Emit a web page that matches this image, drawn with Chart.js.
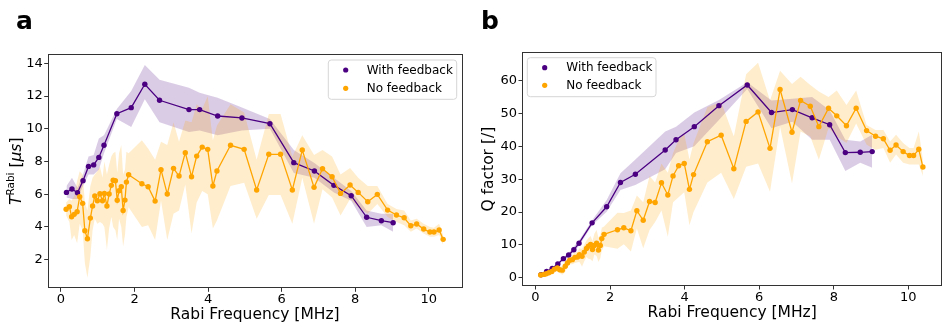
<!DOCTYPE html>
<html>
<head>
<meta charset="utf-8">
<script src="https://cdn.jsdelivr.net/npm/chart.js@4.4.1/dist/chart.umd.min.js"></script>
<style>
  html, body { margin: 0; padding: 0; background: #fff; }
  body { width: 947px; height: 329px; position: relative; overflow: hidden; font-family: "DejaVu Sans", sans-serif; }
  canvas { position: absolute; top: 0; }
  #cA { left: 0; }
  #cB { left: 470px; }
  .panel { position: absolute; font-family: "DejaVu Sans", sans-serif; font-weight: bold; font-size: 25px; line-height: 1; color: #000; }
</style>
</head>
<body>
<canvas id="cA" width="470" height="329"></canvas>
<canvas id="cB" width="477" height="329"></canvas>
<div class="panel" style="left:16px; top:8px;">a</div>
<div class="panel" style="left:481px; top:8px;">b</div>
<script>
// ---------------- data ----------------
const seriesLabels = ["With feedback", "No feedback"];
const xTicks = [0, 2, 4, 6, 8, 10];
const yTicksA = [2, 4, 6, 8, 10, 12, 14];
const yTicksB = [0, 10, 20, 30, 40, 50, 60];

const freqFb = [0.15,0.30,0.45,0.60,0.75,0.89,1.03,1.17,1.52,1.91,2.28,2.68,3.48,3.77,4.26,4.92,5.68,6.33,6.89,7.42,7.89,8.31,8.71,9.03];
const tFb   = [6.11,6.32,6.09,6.83,7.70,7.79,8.25,8.99,10.92,11.29,12.72,11.74,11.17,11.17,10.78,10.66,10.31,7.93,7.42,6.54,5.91,4.59,4.38,4.26];
const tFbHi = [6.5,7.0,6.4,7.2,8.3,8.4,9.4,9.6,11.2,12.3,13.9,13.0,12.5,12.2,11.9,11.3,10.6,8.7,7.9,7.0,6.2,5.0,4.8,4.8];
const tFbLo = [5.8,5.7,5.7,6.5,7.2,7.2,7.5,8.5,10.6,10.1,11.8,10.4,9.8,9.9,9.6,9.9,10.0,7.3,7.0,6.1,5.6,4.0,4.1,3.7];
const qFb   = [0.9,1.9,2.8,4.2,5.8,6.9,8.5,10.5,16.7,21.6,29.0,31.5,38.9,42.0,46.0,52.4,58.7,50.3,51.2,48.7,46.6,38.1,38.2,38.4];
const qFbHi = [1.0,2.1,3.1,4.5,6.3,7.5,9.5,11.3,17.5,23.7,31.8,36.0,44.5,46.0,50.3,54.1,59.5,54.0,54.5,55.0,51.0,42.0,41.5,43.5];
const qFbLo = [0.8,1.7,2.5,3.9,5.3,6.3,7.9,9.7,16.0,20.1,26.7,28.2,33.0,38.0,40.0,48.0,57.5,45.5,47.5,42.0,42.0,32.5,35.0,33.5];

const freqNo = [0.14,0.23,0.29,0.36,0.44,0.51,0.59,0.65,0.72,0.80,0.86,0.92,0.99,1.06,1.13,1.18,1.25,1.31,1.37,1.42,1.48,1.53,1.58,1.64,1.69,1.74,1.78,1.84,2.20,2.37,2.56,2.72,2.89,3.06,3.21,3.38,3.55,3.69,3.84,3.99,4.13,4.24,4.61,4.98,5.32,5.65,5.97,6.29,6.56,6.88,7.11,7.37,7.60,7.86,8.08,8.34,8.60,8.88,9.12,9.33,9.51,9.67,9.86,10.03,10.14,10.28,10.39];
const tNo   = [5.08,5.24,4.62,4.77,4.93,5.85,5.44,3.77,3.28,4.54,5.28,5.89,5.60,6.03,5.60,6.05,5.28,6.01,6.54,6.85,6.82,5.63,6.21,6.46,5.00,5.64,6.74,7.19,6.64,6.46,5.58,7.50,6.01,7.58,7.11,8.54,7.07,8.33,8.88,8.74,6.50,7.42,8.99,8.74,6.26,8.44,8.44,6.26,8.70,6.42,7.56,7.07,6.05,6.56,6.11,5.54,5.99,5.03,4.73,4.56,4.07,4.18,3.87,3.69,3.69,3.81,3.24];
const tNoHi = [5.5,5.7,5.6,5.9,6.8,7.4,7.2,5.5,5.0,6.5,7.0,7.2,7.4,7.7,7.0,8.0,7.2,7.8,8.3,8.5,8.6,7.3,8.5,9.0,7.2,7.5,8.6,8.5,9.3,8.8,8.1,9.2,9.0,10.4,9.2,10.5,10.4,11.5,11.2,12.0,9.3,10.2,11.5,11.0,8.1,10.9,10.9,8.3,9.6,8.4,8.7,8.3,7.2,7.6,7.0,6.5,6.5,5.4,5.1,5.0,4.4,4.5,4.2,4.0,3.95,4.2,3.5];
const tNoLo = [4.7,4.3,3.2,3.5,3.0,4.2,3.8,1.8,0.9,2.2,3.8,4.5,4.2,4.3,4.2,4.0,2.6,3.9,4.6,4.0,3.8,3.2,4.5,4.0,2.8,3.5,4.6,5.2,4.0,4.1,3.2,5.6,3.2,4.8,5.0,6.6,3.6,5.5,6.2,6.0,3.9,4.4,6.5,6.7,4.5,5.95,5.95,4.2,7.0,4.2,6.3,5.8,4.7,5.7,5.2,4.8,5.4,4.6,4.3,4.1,3.7,3.9,3.6,3.4,3.4,3.5,2.9];
const qNo   = [0.8,1.0,1.2,1.5,1.9,2.6,3.0,2.4,2.3,3.5,4.5,5.3,5.5,6.2,6.3,7.0,6.5,7.8,8.9,9.6,10.1,8.6,9.8,10.5,8.4,9.8,11.9,13.2,14.6,15.2,14.3,20.4,17.5,23.2,22.9,28.9,25.2,31.0,34.1,34.8,26.9,31.4,41.4,43.4,33.2,47.6,50.5,39.4,57.3,44.3,54.0,52.2,46.0,51.6,49.3,46.3,51.6,44.8,43.1,42.3,38.8,40.4,38.4,37.2,37.2,39.1,33.7];
const qNoHi = [1.0,1.3,1.6,2.0,2.6,3.3,3.7,3.5,3.5,5.0,5.9,6.6,7.0,7.8,7.9,9.0,8.8,10.0,11.3,12.0,12.7,11.2,13.4,14.5,12.2,13.0,15.2,15.6,19.8,19.7,20.5,25.0,23.0,31.0,29.0,34.8,32.0,38.0,42.0,44.0,36.0,41.0,52.0,53.5,43.0,62.0,65.5,54.0,63.0,59.0,61.2,58.7,56.7,55.0,57.0,52.6,57.0,46.5,45.0,45.0,41.5,43.5,41.0,39.5,39.5,44.5,36.0];
const qNoLo = [0.5,0.8,0.9,1.1,1.3,1.9,2.2,1.4,0.9,1.8,3.3,4.1,4.1,4.5,4.7,4.8,3.4,5.0,6.3,5.8,5.6,4.9,7.1,6.6,4.8,6.0,8.2,9.6,8.8,10.2,8.0,15.0,9.0,14.5,17.0,20.5,12.5,23.0,24.5,26.0,16.0,20.0,29.0,32.0,24.0,33.8,34.8,26.2,46.0,28.7,44.5,43.0,35.9,45.5,43.0,41.0,47.0,40.5,39.0,39.5,35.0,37.5,35.0,34.5,34.5,34.5,31.0];

// ---------------- styling ----------------
const PURPLE = "#4b0082", ORANGE = "#ffa500";
const PURPLE_BAND = "rgba(75,0,130,0.2)", ORANGE_BAND = "rgba(255,165,0,0.2)";
const FONT = "DejaVu Sans";
const AX = "#333";

function pts(xs, ys) { return xs.map((x, i) => ({ x: x, y: ys[i] })); }

function buildDatasets(yFb, yFbHi, yFbLo, yNo, yNoHi, yNoLo) {
  const band = (data, color, fill, order) => ({
    data: data, borderColor: "transparent", borderWidth: 0, backgroundColor: color,
    pointRadius: 0, pointHoverRadius: 0, fill: fill, tension: 0, order: order
  });
  const line = (data, color, label, order) => ({
    label: label, data: data, borderColor: color, borderWidth: 1.3, backgroundColor: color,
    pointRadius: 2.7, pointBorderWidth: 0, pointBackgroundColor: color, pointHoverRadius: 2.7,
    fill: false, tension: 0, order: order
  });
  return [
    band(pts(freqFb, yFbHi), PURPLE_BAND, "+1", 6),
    band(pts(freqFb, yFbLo), "transparent", false, 6),
    line(pts(freqFb, yFb), PURPLE, seriesLabels[0], 2),
    band(pts(freqNo, yNoHi), ORANGE_BAND, "+1", 5),
    band(pts(freqNo, yNoLo), "transparent", false, 5),
    line(pts(freqNo, yNo), ORANGE, seriesLabels[1], 1)
  ];
}

const framePlugin = {
  id: "frame",
  afterDatasetsDraw(chart) {
    const a = chart.chartArea, ctx = chart.ctx;
    ctx.save();
    ctx.strokeStyle = AX; ctx.lineWidth = 1;
    ctx.strokeRect(Math.round(a.left) + 0.5, Math.round(a.top) + 0.5,
                   Math.round(a.right - a.left) - 1, Math.round(a.bottom - a.top) - 1);
    ctx.restore();
  }
};

function legendPlugin(box) {
  return {
    id: "customLegend",
    afterDraw(chart) {
      const ctx = chart.ctx;
      ctx.save();
      const r = 3, x = box.x, y = box.y, w = box.w, h = box.h;
      ctx.beginPath();
      ctx.moveTo(x + r, y); ctx.lineTo(x + w - r, y); ctx.quadraticCurveTo(x + w, y, x + w, y + r);
      ctx.lineTo(x + w, y + h - r); ctx.quadraticCurveTo(x + w, y + h, x + w - r, y + h);
      ctx.lineTo(x + r, y + h); ctx.quadraticCurveTo(x, y + h, x, y + h - r);
      ctx.lineTo(x, y + r); ctx.quadraticCurveTo(x, y, x + r, y); ctx.closePath();
      ctx.fillStyle = "rgba(255,255,255,0.8)"; ctx.fill();
      ctx.strokeStyle = "#d6d6d6"; ctx.lineWidth = 1; ctx.stroke();
      const items = chart.data.datasets.filter(d => d.label);
      ctx.font = "12px '" + FONT + "'";
      ctx.textBaseline = "middle"; ctx.textAlign = "left";
      items.forEach((d, i) => {
        const yy = box.rowY[i];
        ctx.beginPath(); ctx.arc(box.markX, yy, 2.6, 0, Math.PI * 2);
        ctx.fillStyle = d.borderColor; ctx.fill();
        ctx.fillStyle = "#000"; ctx.fillText(d.label, box.textX, yy + 0.5);
      });
      ctx.restore();
    }
  };
}

const yLabelA = {
  id: "yLabelA",
  afterDraw(chart) {
    const ctx = chart.ctx;
    const a = chart.chartArea;
    ctx.save();
    ctx.translate(20.5, (a.top + a.bottom) / 2);
    ctx.rotate(-Math.PI / 2);
    ctx.fillStyle = "#000"; ctx.textBaseline = "alphabetic"; ctx.textAlign = "left";
    const parts = [
      { t: "T", f: "italic 15.5px '" + FONT + "'", dy: 0 },
      { t: "Rabi", f: "10.5px '" + FONT + "'", dy: -6.5 },
      { t: " [", f: "15.5px '" + FONT + "'", dy: 0 },
      { t: "\u03bcs", f: "italic 15.5px '" + FONT + "'", dy: 0 },
      { t: "]", f: "15.5px '" + FONT + "'", dy: 0 }
    ];
    let total = 0;
    parts.forEach(p => { ctx.font = p.f; p.w = ctx.measureText(p.t).width; total += p.w; });
    let x = -total / 2;
    parts.forEach(p => { ctx.font = p.f; ctx.fillText(p.t, x, p.dy); x += p.w; });
    ctx.restore();
  }
};

function makeChart(canvasId, datasets, cfg) {
  return new Chart(document.getElementById(canvasId), {
    type: "line",
    data: { datasets: datasets },
    plugins: cfg.plugins,
    options: {
      responsive: false, animation: false, devicePixelRatio: 1,
      layout: { padding: { top: cfg.padTop, right: cfg.padRight, left: 0, bottom: 0 } },
      plugins: { legend: { display: false }, tooltip: { enabled: false } },
      events: [],
      scales: {
        x: {
          type: "linear", min: -0.36, max: 10.91,
          border: { display: false },
          grid: { drawOnChartArea: false, drawTicks: true, tickLength: 3.5, color: AX, tickWidth: 1 },
          ticks: { font: { family: FONT, size: 13 }, color: "#000", padding: 0, maxRotation: 0,
                   callback: v => String(v) },
          afterBuildTicks: s => { s.ticks = xTicks.map(v => ({ value: v })); },
          afterFit: s => { s.height = cfg.xAxisH; },
          title: { display: true, text: "Rabi Frequency [MHz]", color: "#000",
                   font: { family: FONT, size: 15.5 }, padding: { top: 0, bottom: cfg.xTitlePad } }
        },
        y: {
          type: "linear", min: cfg.yMin, max: cfg.yMax,
          border: { display: false },
          grid: { drawOnChartArea: false, drawTicks: true, tickLength: 3.5, color: AX, tickWidth: 1 },
          ticks: { font: { family: FONT, size: 13 }, color: "#000", padding: 1.5,
                   callback: v => String(v) },
          afterBuildTicks: s => { s.ticks = cfg.yTicks.map(v => ({ value: v })); },
          afterFit: s => { s.width = cfg.yAxisW; },
          title: cfg.yTitle
        }
      }
    }
  });
}

makeChart("cA", buildDatasets(tFb, tFbHi, tFbLo, tNo, tNoHi, tNoLo), {
  padTop: 54.3, padRight: 7.7, xAxisH: 40.7, yAxisW: 47.7, xTitlePad: 4.7,
  yMin: 0.25, yMax: 14.55, yTicks: yTicksA,
  yTitle: { display: false },
  plugins: [framePlugin, yLabelA,
    legendPlugin({ x: 328.3, y: 60, w: 128.4, h: 39.3, markX: 345.7, textX: 366.7, rowY: [70, 88.3] })]
});

makeChart("cB", buildDatasets(qFb, qFbHi, qFbLo, qNo, qNoHi, qNoLo), {
  padTop: 52.3, padRight: 4.7, xAxisH: 43, yAxisW: 52, xTitlePad: 7.2,
  yMin: -2.53, yMax: 68.65, yTicks: yTicksB,
  yTitle: { display: true, text: "Q factor [/]", color: "#000",
            font: { family: FONT, size: 15.5 }, padding: { top: 9.3, bottom: 0 } },
  plugins: [framePlugin,
    legendPlugin({ x: 57.3, y: 57.7, w: 128.7, h: 39, markX: 74.7, textX: 96.3, rowY: [67.7, 85.3] })]
});
</script>
</body>
</html>
